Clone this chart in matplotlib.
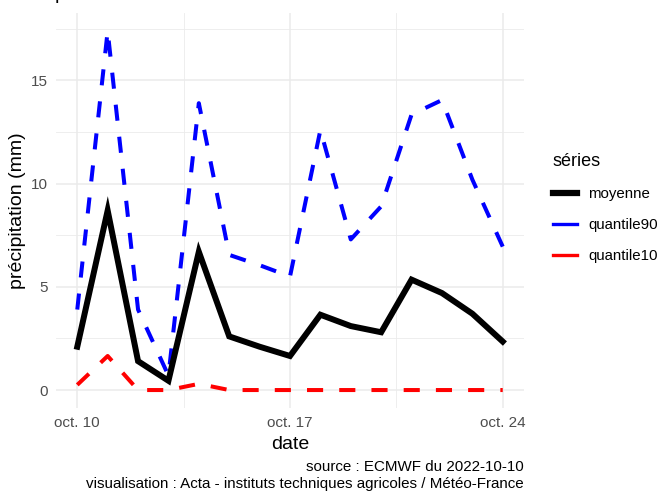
import numpy as np
import pandas as pd
import matplotlib
matplotlib.use('Agg')
import matplotlib.pyplot as plt
from matplotlib.lines import Line2D

plt.rcParams['font.family'] = ['Liberation Sans', 'DejaVu Sans']

dates = pd.date_range('2022-10-10', '2022-10-24', freq='D')
moyenne = [2.1, 8.7, 1.4, 0.45, 6.7, 2.6, 2.1, 1.65, 3.65, 3.1, 2.8, 5.35, 4.7, 3.7, 2.35]
quantile90 = [3.9, 17.4, 3.9, 0.7, 13.9, 6.55, 6.05, 5.5, 12.6, 7.3, 8.9, 13.35, 14.05, 10.2, 6.95]
quantile10 = [0.25, 1.65, 0, 0, 0.3, 0, 0, 0, 0, 0, 0, 0, 0, 0, 0]

tick_dates = pd.to_datetime(['2022-10-10', '2022-10-17', '2022-10-24'])
tick_labels = ['oct. 10', 'oct. 17', 'oct. 24']
minor_dates = pd.to_datetime(['2022-10-13 12:00', '2022-10-20 12:00'])
yticks = [0, 5, 10, 15]
yminor = [2.5, 7.5, 12.5, 17.5]

W, H = 662, 493
fig = plt.figure(figsize=(W / 100, H / 100), dpi=100)
ax = fig.add_axes([56 / W, (H - 408) / H, (524 - 56) / W, (408 - 13) / H])

ax.plot(dates, quantile90, color='blue', lw=2.9, dashes=(4, 4), zorder=3)
ax.plot(dates, quantile10, color='red', lw=2.9, dashes=(4, 4), zorder=3)
ax.plot(dates, moyenne, color='black', lw=4.3, solid_joinstyle='miter', zorder=4)

span = dates[-1] - dates[0]
ax.set_xlim(dates[0] - span * 0.05, dates[-1] + span * 0.05)
ymax = max(quantile90)
ax.set_ylim(-0.05 * ymax, ymax * 1.05)

ax.set_xticks(tick_dates)
ax.set_xticklabels(tick_labels)
ax.set_xticks(minor_dates, minor=True)
ax.set_yticks(yticks)
ax.set_yticks(yminor, minor=True)

ax.grid(which='major', color='#EBEBEB', lw=1.1)
ax.grid(which='minor', color='#EBEBEB', lw=0.6)
ax.set_axisbelow(True)
for s in ax.spines.values():
    s.set_visible(False)
ax.tick_params(which='both', length=0, labelsize=11, labelcolor='#4D4D4D', pad=6)

ax.set_xlabel('date', fontsize=14, labelpad=4)
ax.set_ylabel('précipitation (mm)', fontsize=14, labelpad=3)

handles = [Line2D([], [], color='black', lw=4.5),
           Line2D([], [], color='blue', lw=2.4),
           Line2D([], [], color='red', lw=2.4)]
leg = fig.legend(handles, ['moyenne', 'quantile90', 'quantile10'], title='séries',
                 loc='upper left', bbox_to_anchor=(539 / W, 1 - 140 / H), frameon=False,
                 fontsize=10.8, title_fontsize=13, handlelength=1.6, labelspacing=1.12,
                 handletextpad=0.8)
leg._legend_box.align = 'left'
leg._legend_box._children[0].sep = 12  # gap below title

fig.text(524 / W, 1 - 467 / H, 'source : ECMWF du 2022-10-10', ha='right', va='center', fontsize=10.9)
fig.text(524 / W, 1 - 484 / H, 'visualisation : Acta - instituts techniques agricoles / Météo-France',
         ha='right', va='center', fontsize=10.9)
fig.text(55 / W, 1 + 1 / H, 'prévisions', ha='left', va='baseline', fontsize=14)

fig.savefig('out.png', dpi=100)
